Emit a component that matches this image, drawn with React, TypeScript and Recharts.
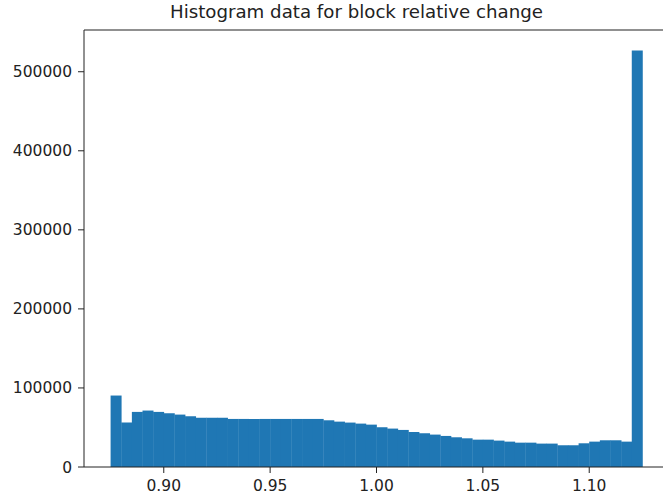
import React from "react";
import { BarChart, Bar, XAxis, YAxis, ReferenceLine } from "recharts";

// histogram bins (left edge of each 0.005-wide bin)
const binLeft = [
  0.875, 0.88, 0.885, 0.89, 0.895, 0.9, 0.905, 0.91, 0.915, 0.92,
  0.925, 0.93, 0.935, 0.94, 0.945, 0.95, 0.955, 0.96, 0.965, 0.97,
  0.975, 0.98, 0.985, 0.99, 0.995, 1.0, 1.005, 1.01, 1.015, 1.02,
  1.025, 1.03, 1.035, 1.04, 1.045, 1.05, 1.055, 1.06, 1.065, 1.07,
  1.075, 1.08, 1.085, 1.09, 1.095, 1.1, 1.105, 1.11, 1.115, 1.12,
];
const binWidth = 0.005;

const counts = [
  90400, 56200, 69700, 71400, 69700, 68000, 66300, 64200, 62300, 62300,
  62300, 60800, 60800, 60800, 60800, 60800, 60800, 60800, 60800, 60800,
  59100, 57400, 56200, 54900, 53600, 50300, 48600, 46900, 44300, 42700,
  41000, 39300, 37600, 36300, 34600, 34600, 33400, 32100, 30800, 30800,
  29600, 29600, 27500, 27500, 30000, 32100, 33800, 33800, 32100, 527000,
];

const xTicks = [0.9, 0.95, 1.0, 1.05, 1.1];
const yTicks = [0, 100000, 200000, 300000, 400000, 500000];
const yMax = 552800;

const data = binLeft.map((x, i) => ({ x: x + binWidth / 2, count: counts[i] }));

const tickStyle = { fill: "#222", fontSize: 15.5, fontFamily: "DejaVu Sans" };

export default function App() {
  return (
    <div
      style={{
        position: "absolute",
        left: 0,
        top: 0,
        width: 663,
        height: 497,
        overflow: "hidden",
        background: "#fff",
      }}
    >
      <div
        style={{
          position: "absolute",
          left: 0,
          width: 713,
          top: 1,
          textAlign: "center",
          fontFamily: "DejaVu Sans",
          fontSize: 18.2,
          color: "#222",
          whiteSpace: "nowrap",
        }}
      >
        Histogram data for block relative change
      </div>
      <BarChart
        width={675}
        height={497}
        data={data}
        margin={{ top: 30, right: 6, bottom: 0, left: 0 }}
        barCategoryGap={0}
        barGap={0}
      >
        <XAxis
          dataKey="x"
          type="number"
          domain={[0.8625, 1.1375]}
          ticks={xTicks}
          tickFormatter={(v: number) => v.toFixed(2)}
          height={30}
          tickSize={6}
          tickMargin={7}
          stroke="#222"
          tick={tickStyle}
          allowDataOverflow
        />
        <YAxis
          type="number"
          domain={[0, yMax]}
          ticks={yTicks}
          width={84}
          tickSize={6}
          tickMargin={6}
          stroke="#222"
          tick={tickStyle}
          allowDataOverflow
        />
        <Bar dataKey="count" fill="#1f77b4" isAnimationActive={false} />
        <ReferenceLine y={yMax} stroke="#222" strokeWidth={1.2} ifOverflow="visible" />
      </BarChart>
    </div>
  );
}
